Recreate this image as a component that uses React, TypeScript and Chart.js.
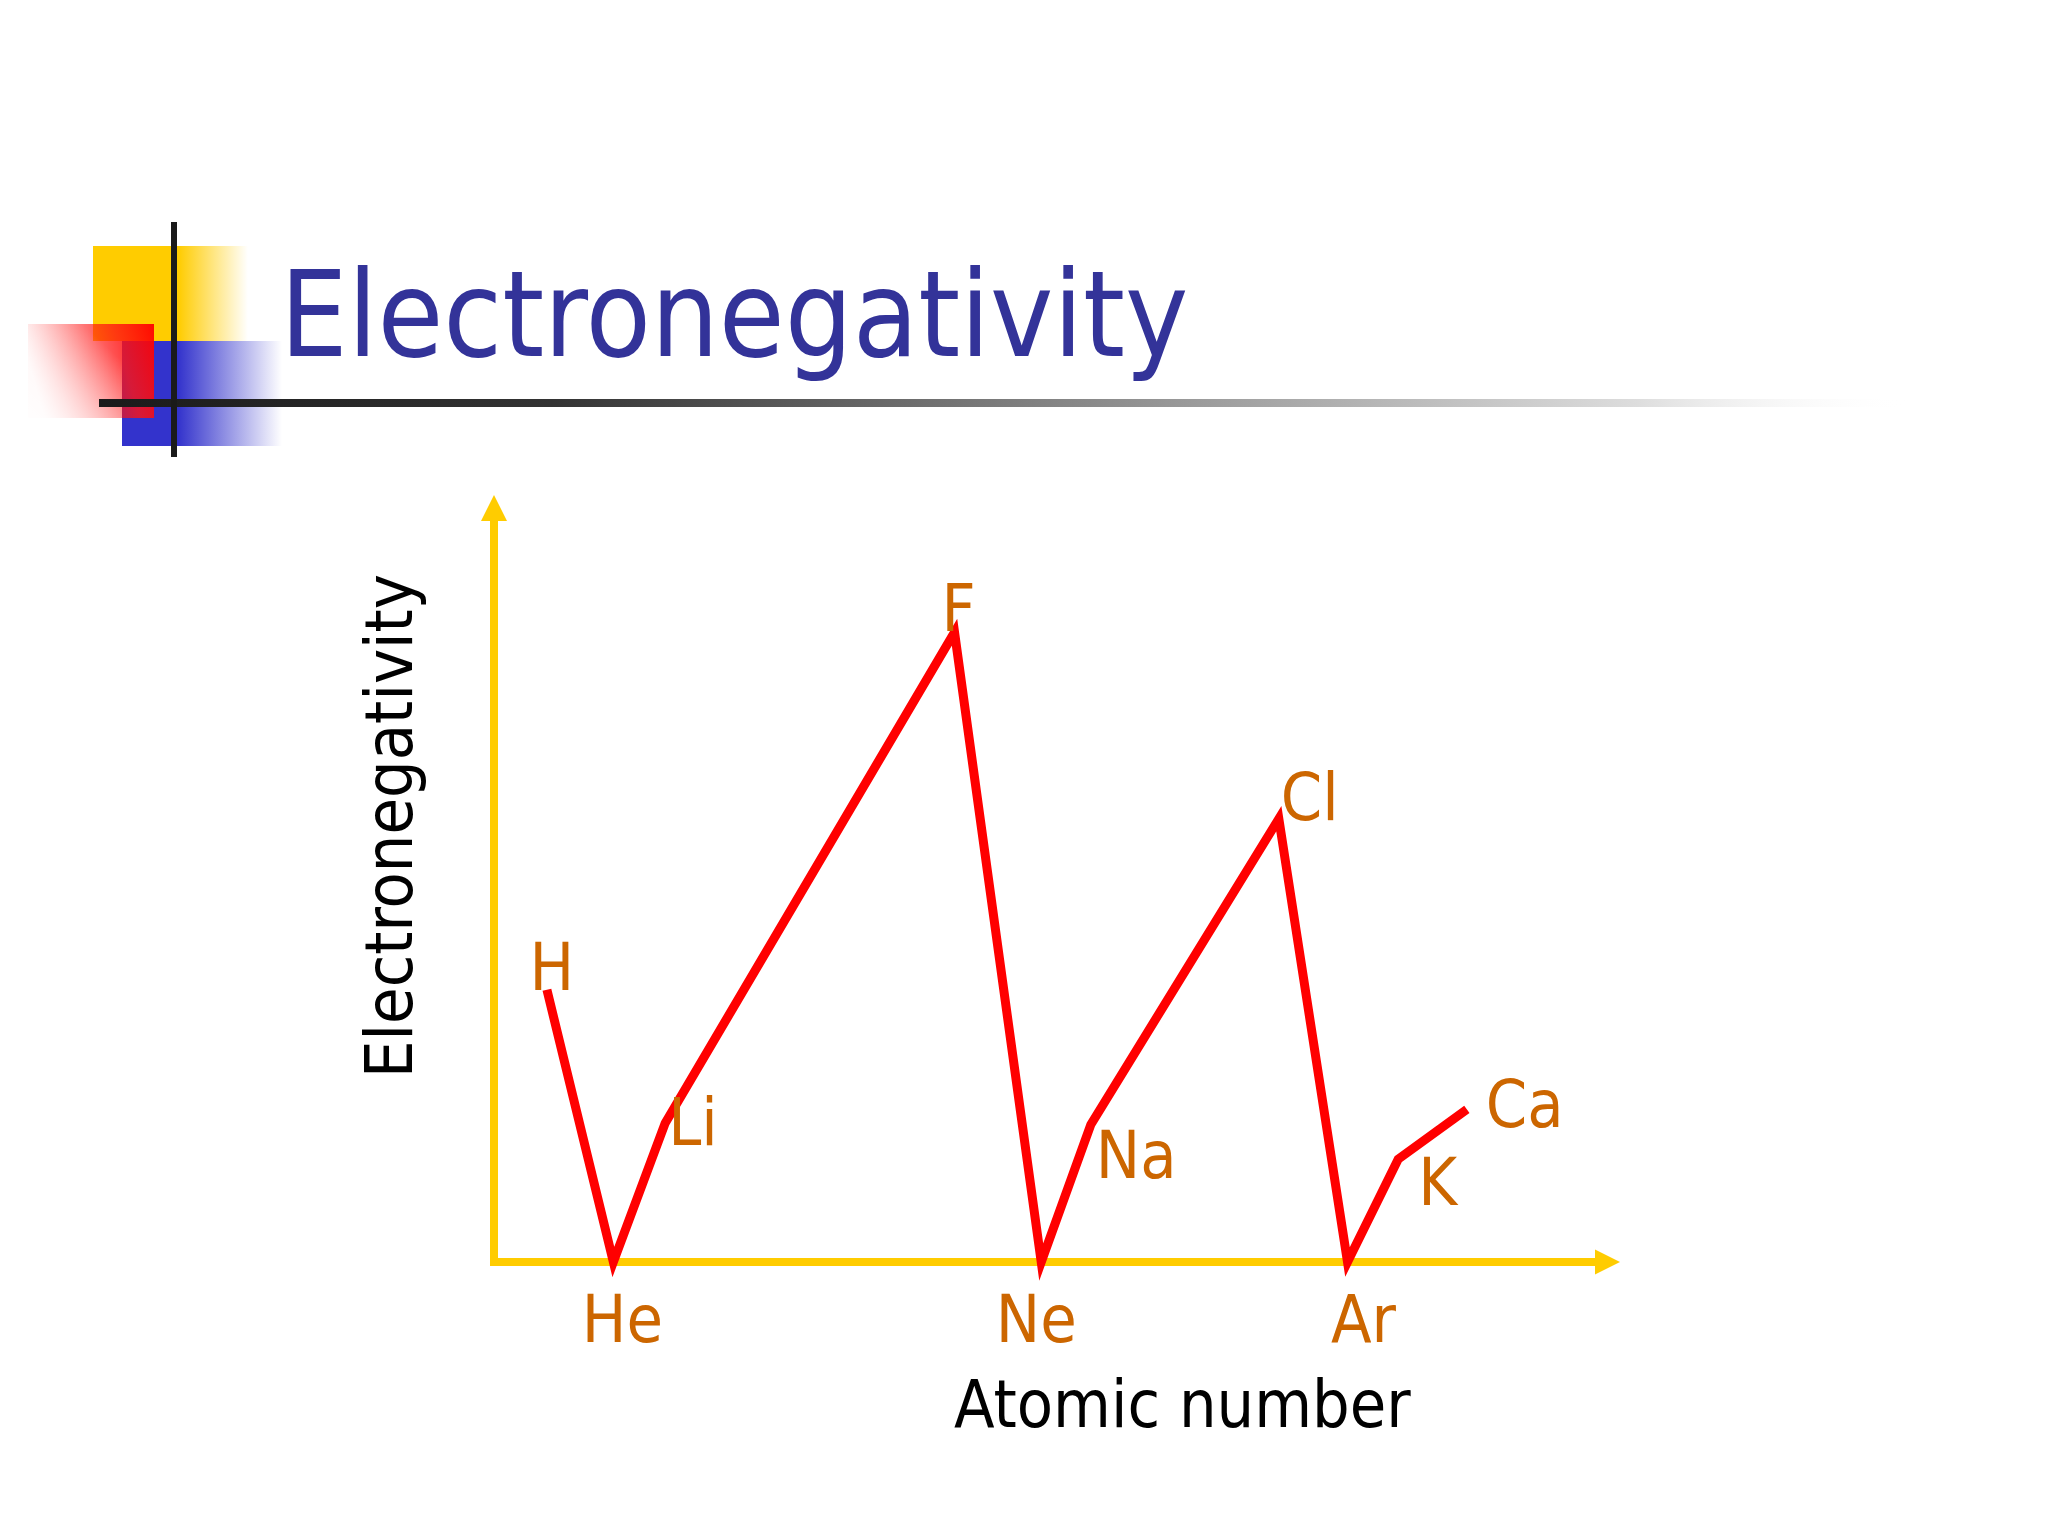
import React, { useEffect, useRef } from "react";
import { Chart, registerables } from "chart.js";

Chart.register(...registerables);

// ---- data (schematic units, 0–100 on each axis) ----
const elements = ["H", "He", "Li", "F", "Ne", "Na", "Cl", "Ar", "K", "Ca"];
const atomicPosition = [4.7, 10.6, 15.2, 40.9, 48.6, 53.0, 69.7, 75.8, 80.3, 86.4];
const electronegativity = [35.5, 0, 18.1, 82.1, 0, 17.9, 57.8, 0, 13.4, 19.9];

const slideTitle = "Electronegativity";
const xAxisTitle = "Atomic number";
const yAxisTitle = "Electronegativity";

// label placement relative to each point: [dx, dy, align]
const labelPlacement: [number, number, CanvasTextAlign][] = [
  [5, 0, "center"],
  [9, 80, "center"],
  [3, 22, "left"],
  [4, -1, "center"],
  [-5, 80, "center"],
  [5, 53, "left"],
  [2, 1, "left"],
  [16, 80, "center"],
  [20, 46, "left"],
  [19, 18, "left"],
];

const FONT = '"DejaVu Sans Condensed", "DejaVu Sans", sans-serif';
const AXIS_COLOR = "#FFCC00";
const LINE_COLOR = "#FF0000";
const LABEL_COLOR = "#CC6600";
const TITLE_COLOR = "#333399";

const decorationPlugin = {
  id: "decoration",
  beforeDraw(chart: any) {
    const ctx: CanvasRenderingContext2D = chart.ctx;
    ctx.save();
    ctx.fillStyle = "#ffffff";
    ctx.fillRect(0, 0, chart.width, chart.height);

    // yellow square
    let g = ctx.createLinearGradient(93, 0, 248, 0);
    g.addColorStop(0, "#FFCC00");
    g.addColorStop(0.55, "#FFCC00");
    g.addColorStop(1, "rgba(255,204,0,0)");
    ctx.fillStyle = g;
    ctx.fillRect(93, 246, 155, 95);

    // blue square
    g = ctx.createLinearGradient(122, 0, 282, 0);
    g.addColorStop(0, "#3333CC");
    g.addColorStop(0.35, "#3333CC");
    g.addColorStop(1, "rgba(51,51,204,0)");
    ctx.fillStyle = g;
    ctx.fillRect(122, 341, 160, 105);

    // red square (fades toward lower left)
    g = ctx.createLinearGradient(154, 324, 28, 360);
    g.addColorStop(0, "rgba(255,0,0,0.95)");
    g.addColorStop(0.3, "rgba(255,20,20,0.8)");
    g.addColorStop(1, "rgba(255,0,0,0.05)");
    ctx.fillStyle = g;
    ctx.fillRect(28, 324, 126, 94);
    // extra whitening toward the bottom-left corner
    const g2 = ctx.createLinearGradient(100, 340, 28, 418);
    g2.addColorStop(0, "rgba(255,255,255,0)");
    g2.addColorStop(1, "rgba(255,255,255,0.9)");
    ctx.fillStyle = g2;
    ctx.fillRect(28, 324, 94, 94);

    // horizontal rule
    g = ctx.createLinearGradient(99, 0, 1910, 0);
    g.addColorStop(0, "#1a1a1a");
    g.addColorStop(0.25, "#333333");
    g.addColorStop(0.6, "#999999");
    g.addColorStop(0.85, "#dddddd");
    g.addColorStop(1, "rgba(255,255,255,0)");
    ctx.fillStyle = g;
    ctx.fillRect(99, 399, 1811, 8);

    // vertical rule
    ctx.fillStyle = "#1a1a1a";
    ctx.fillRect(171, 222, 6, 235);

    // slide title
    ctx.fillStyle = TITLE_COLOR;
    ctx.font = `119px ${FONT}`;
    ctx.textAlign = "left";
    ctx.textBaseline = "alphabetic";
    ctx.fillText(slideTitle, 280, 356);
    ctx.restore();
  },
  beforeDatasetsDraw(chart: any) {
    const ctx: CanvasRenderingContext2D = chart.ctx;
    const { left, right, top, bottom } = chart.chartArea;
    ctx.save();
    ctx.strokeStyle = AXIS_COLOR;
    ctx.fillStyle = AXIS_COLOR;
    ctx.lineWidth = 8;
    ctx.lineCap = "butt";
    ctx.beginPath();
    ctx.moveTo(left, bottom + 4);
    ctx.lineTo(left, top + 24);
    ctx.moveTo(left - 4, bottom);
    ctx.lineTo(right - 23, bottom);
    ctx.stroke();
    ctx.beginPath();
    ctx.moveTo(left, top);
    ctx.lineTo(left - 13, top + 26);
    ctx.lineTo(left + 13, top + 26);
    ctx.closePath();
    ctx.fill();
    ctx.beginPath();
    ctx.moveTo(right, bottom);
    ctx.lineTo(right - 25, bottom - 12.5);
    ctx.lineTo(right - 25, bottom + 12.5);
    ctx.closePath();
    ctx.fill();

    // axis titles
    ctx.fillStyle = "#000000";
    ctx.font = `66px ${FONT}`;
    ctx.textBaseline = "alphabetic";
    ctx.textAlign = "left";
    ctx.fillText(xAxisTitle, 954, 1427);
    ctx.translate(412, 826);
    ctx.rotate(-Math.PI / 2);
    ctx.textAlign = "center";
    ctx.fillText(yAxisTitle, 0, 0);
    ctx.restore();
  },
  afterDatasetsDraw(chart: any) {
    const ctx: CanvasRenderingContext2D = chart.ctx;
    const meta = chart.getDatasetMeta(0);
    ctx.save();
    ctx.fillStyle = LABEL_COLOR;
    ctx.font = `66px ${FONT}`;
    ctx.textBaseline = "alphabetic";
    meta.data.forEach((pt: any, i: number) => {
      const [dx, dy, align] = labelPlacement[i];
      ctx.textAlign = align;
      ctx.fillText(elements[i], pt.x + dx, pt.y + dy);
    });
    ctx.restore();
  },
};

export default function App() {
  const ref = useRef<HTMLCanvasElement | null>(null);
  useEffect(() => {
    if (!ref.current) return;
    const chart = new Chart(ref.current, {
      type: "line",
      data: {
        datasets: [
          {
            label: yAxisTitle,
            data: elements.map((_, i) => ({ x: atomicPosition[i], y: electronegativity[i] })),
            borderColor: LINE_COLOR,
            borderWidth: 9,
            borderJoinStyle: "miter",
            borderCapStyle: "butt",
            pointRadius: 0,
            tension: 0,
            fill: false,
            clip: false as any,
          },
        ],
      },
      options: {
        animation: false,
        responsive: false,
        devicePixelRatio: 1,
        layout: { padding: { left: 494, right: 428, top: 495, bottom: 274 } },
        plugins: {
          legend: { display: false },
          tooltip: { enabled: false },
          title: { display: false },
        },
        events: [],
        scales: {
          x: { type: "linear", min: 0, max: 100, display: false },
          y: { type: "linear", min: 0, max: 100, display: false },
        },
      },
      plugins: [decorationPlugin],
    });
    return () => chart.destroy();
  }, []);
  return (
    <div style={{ position: "absolute", left: 0, top: 0, width: 2048, height: 1536, background: "#fff" }}>
      <canvas ref={ref} width={2048} height={1536} style={{ display: "block", width: 2048, height: 1536 }} />
    </div>
  );
}
